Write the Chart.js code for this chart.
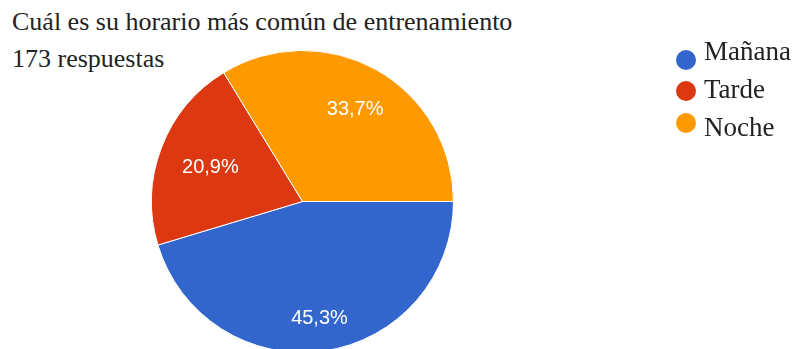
<!DOCTYPE html>
<html>
<head>
<meta charset="utf-8">
<script src="https://cdn.jsdelivr.net/npm/chart.js@4.4.1/dist/chart.umd.min.js"></script>
<style>
  html, body { margin: 0; padding: 0; background: #fff; overflow: hidden; }
  body { width: 795px; height: 349px; position: relative; }
  .txt { position: absolute; font-family: "Liberation Serif", "Times New Roman", serif; font-size: 26px; line-height: 26px; color: #222; white-space: nowrap; }
  .leg { font-size: 27px; line-height: 27px; }
  #chartBox { position: absolute; left: 0; top: 0; width: 795px; height: 362px; }
  .dot { position: absolute; width: 20px; height: 20px; border-radius: 50%; }
</style>
</head>
<body>
<div class="txt" id="title" style="left:12px; top:9px;"></div>
<div class="txt" id="subtitle" style="left:12px; top:46px;"></div>
<div id="chartBox"><canvas id="pie"></canvas></div>
<div id="legend"></div>
<script>
var title = "Cuál es su horario más común de entrenamiento";
var totalAnswers = 173;
var labels = ["Mañana", "Tarde", "Noche"];
var percents = [45.3, 20.9, 33.7];
var colors = ["#3366cc", "#dc3912", "#ff9900"];

document.getElementById("title").textContent = title;
document.getElementById("subtitle").textContent = totalAnswers + " respuestas";

// legend on the right, one row per answer
var legend = document.getElementById("legend");
for (var i = 0; i < labels.length; i++) {
    var dot = document.createElement("div");
    dot.className = "dot";
    dot.style.left = "676px";
    dot.style.top = (50 + i * 31.3) + "px";
    dot.style.background = colors[i];
    legend.appendChild(dot);

    var txt = document.createElement("div");
    txt.className = "txt leg";
    txt.style.left = "704px";
    txt.style.top = (37.5 + i * 38.3) + "px";
    txt.textContent = labels[i];
    legend.appendChild(txt);
}

function fmt(v) {
    return v.toFixed(1).replace(".", ",") + "%";
}

// white percentage text inside each slice; the text box is pushed out
// along the bisector until its outer edge sits near 0.845 of the radius
var sliceLabels = {
    id: "sliceLabels",
    afterDatasetsDraw: function (chart) {
        var ctx = chart.ctx;
        var arcs = chart.getDatasetMeta(0).data;
        ctx.save();
        ctx.font = "20px 'Liberation Sans', Arial, sans-serif";
        ctx.fillStyle = "#fff";
        ctx.textAlign = "center";
        ctx.textBaseline = "alphabetic";
        arcs.forEach(function (arc, i) {
            var p = arc.getProps(["x", "y", "startAngle", "endAngle", "outerRadius"], true);
            var mid = (p.startAngle + p.endAngle) / 2;
            var text = fmt(percents[i]);
            var halfW = ctx.measureText(text).width / 2;
            var halfH = 7;
            var cos = Math.cos(mid), sin = Math.sin(mid);
            var d = p.outerRadius * 0.845 - halfW * Math.abs(cos) - halfH * Math.abs(sin);
            ctx.fillText(text, p.x + cos * d, p.y + sin * d + 7);
        });
        ctx.restore();
    }
};

new Chart(document.getElementById("pie"), {
    type: "pie",
    data: {
        labels: labels,
        datasets: [{
            data: percents,
            backgroundColor: colors,
            borderColor: "#fff",
            borderWidth: 1
        }]
    },
    options: {
        responsive: true,
        maintainAspectRatio: false,
        animation: false,
        rotation: 90,
        layout: { padding: { left: 151, top: 50, right: 341, bottom: 9 } },
        plugins: {
            legend: { display: false },
            tooltip: { enabled: false }
        }
    },
    plugins: [sliceLabels]
});
</script>
</body>
</html>
